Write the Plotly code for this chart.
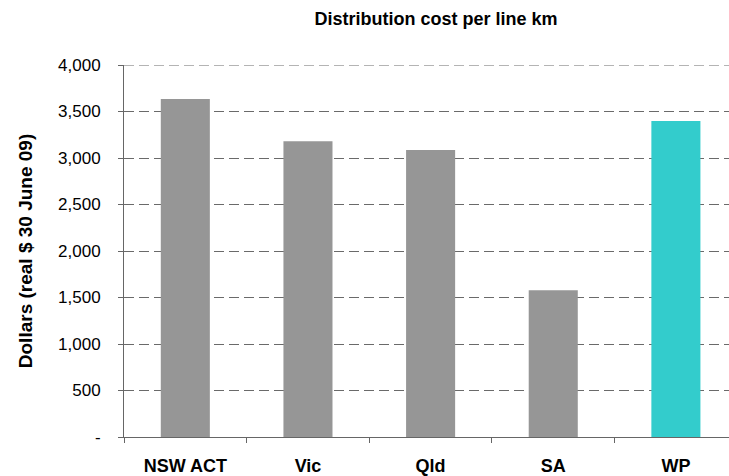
import plotly.graph_objects as go

categories = ["NSW ACT", "Vic", "Qld", "SA", "WP"]
values = [3635, 3181, 3086, 1579, 3397]
bar_colors = ["#969696", "#969696", "#969696", "#969696", "#33CCCC"]
y_tickvals = [0, 500, 1000, 1500, 2000, 2500, 3000, 3500, 4000]
y_ticktext = ["-", "500", "1,000", "1,500", "2,000", "2,500", "3,000", "3,500", "4,000"]
y_max = 4000

font_family = "Liberation Sans, Arial, sans-serif"
grid_color = "#6a6a6a"

fig = go.Figure(
    go.Bar(
        x=categories,
        y=values,
        marker=dict(color=bar_colors, line=dict(width=0)),
        width=0.4,
    )
)

fig.update_layout(
    width=729,
    height=476,
    margin=dict(l=124, r=0, t=65, b=39, autoexpand=False),
    paper_bgcolor="white",
    plot_bgcolor="white",
    showlegend=False,
    font=dict(family=font_family, color="black"),
    title=dict(
        text="<b>Distribution cost per line km</b>",
        x=376 / 729,
        xanchor="center",
        xref="paper",
        y=1 - 19 / 476,
        yanchor="middle",
        yref="container",
        font=dict(size=18, family=font_family, color="black"),
    ),
)

# top gridline (plotly omits gridlines that sit on the plot edge)
fig.add_shape(
    type="line",
    xref="paper",
    yref="y",
    x0=0,
    x1=1,
    y0=y_max,
    y1=y_max,
    line=dict(color=grid_color, width=1.2, dash="10px,5px"),
    layer="below",
)

fig.update_xaxes(
    type="category",
    range=[-0.5, 4.433],
    showline=True,
    linecolor="#666666",
    linewidth=1,
    ticks="outside",
    tickson="boundaries",
    ticklen=5,
    tickcolor="#666666",
    showgrid=False,
    tickfont=dict(size=18, family=font_family, color="black", weight="bold"),
    ticklabelstandoff=12,
)

fig.update_yaxes(
    range=[0, y_max],
    tickvals=y_tickvals,
    ticktext=y_ticktext,
    showline=True,
    linecolor="#666666",
    linewidth=1,
    ticks="outside",
    ticklen=5,
    tickcolor="#666666",
    showgrid=True,
    gridcolor=grid_color,
    gridwidth=1.2,
    griddash="10px,5px",
    zeroline=False,
    tickfont=dict(size=17, family=font_family, color="black"),
    ticklabelstandoff=14,
    title=dict(
        text="<b>Dollars (real $ 30 June 09)</b>",
        font=dict(size=19, family=font_family, color="black"),
        standoff=20,
    ),
)

fig.write_html(
    "out.html",
    config={"displayModeBar": False},
    post_script="document.body.style.margin='0';document.body.style.overflow='hidden';",
)
